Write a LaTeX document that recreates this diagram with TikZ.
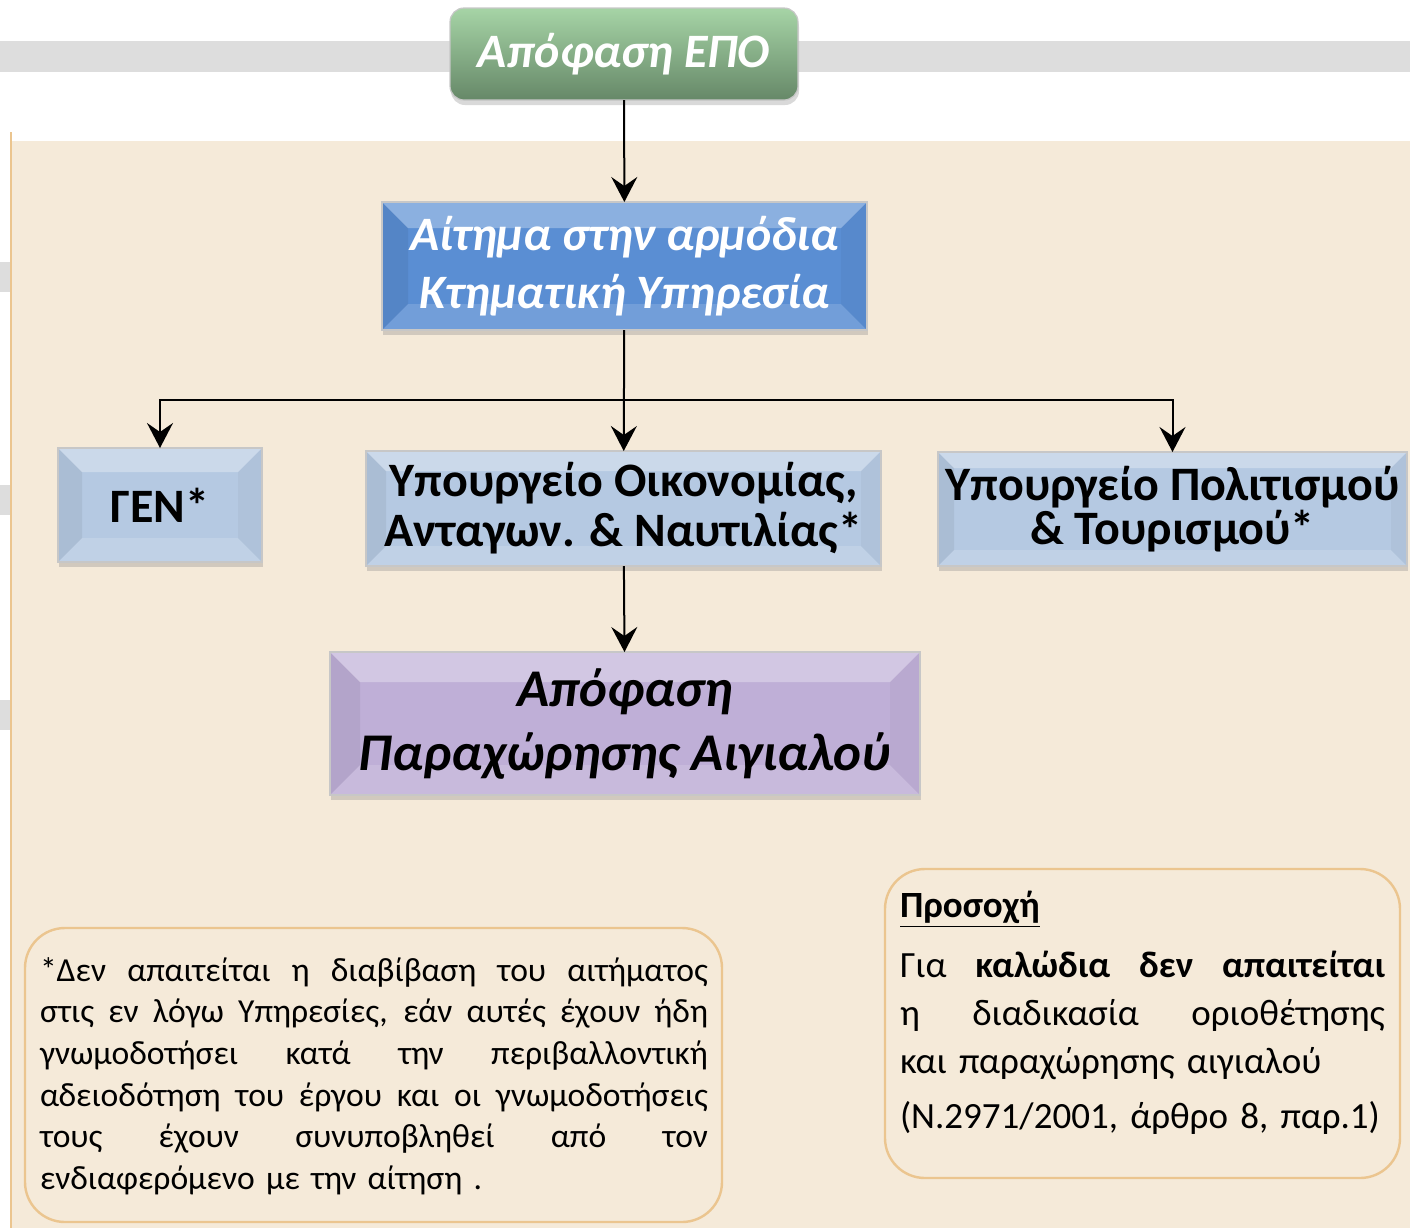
\documentclass[tikz,border=0pt]{standalone}
\usepackage{fontspec}
\setmainfont{Carlito}
\usetikzlibrary{arrows.meta,shadows}

\definecolor{barGray}{HTML}{DDDDDD}
\definecolor{panelBeige}{HTML}{F5EAD9}
\definecolor{noteLine}{HTML}{EBC58F}
\definecolor{epoTop}{HTML}{A6D4A6}
\definecolor{epoMid}{HTML}{6F956F}
\definecolor{epoBottom}{HTML}{668868}
\definecolor{reqBlue}{HTML}{5A8ED3}
\definecolor{srvBlue}{HTML}{B5C9E2}
\definecolor{decPurple}{HTML}{BFAFD7}

% one justified line of a note: width, text
\newcommand{\jline}[2]{\makebox[#1][s]{\spaceskip=0pt\xspaceskip=0pt\relax #2}}

\begin{document}
\begin{tikzpicture}[
        x=0.5pt, y=-0.5pt,
        box/.style={rectangle, draw=black!22, line width=0.6pt, inner sep=0pt, outer sep=0pt, align=center,
            drop shadow={opacity=0.3, shadow xshift=0.5pt, shadow yshift=-2.5pt}},
        bevel/.style={path picture={
            \coordinate (bnw) at (path picture bounding box.north west);
            \coordinate (bne) at (path picture bounding box.north east);
            \coordinate (bsw) at (path picture bounding box.south west);
            \coordinate (bse) at (path picture bounding box.south east);
            \fill[white, opacity=0.3] (bnw) -- (bne) -- ([shift={(-#1pt,-#1pt)}]bne) -- ([shift={(#1pt,-#1pt)}]bnw) -- cycle;
            \fill[black, opacity=0.06] (bnw) -- ([shift={(#1pt,-#1pt)}]bnw) -- ([shift={(#1pt,#1pt)}]bsw) -- (bsw) -- cycle;
            \fill[white, opacity=0.15] (bsw) -- ([shift={(#1pt,#1pt)}]bsw) -- ([shift={(-#1pt,#1pt)}]bse) -- (bse) -- cycle;
            \fill[black, opacity=0.03] (bne) -- (bse) -- ([shift={(-#1pt,#1pt)}]bse) -- ([shift={(-#1pt,-#1pt)}]bne) -- cycle;
        }},
        box_green/.style={box, rounded corners=7pt, top color=epoTop, middle color=epoMid, bottom color=epoBottom,
            text=white, font=\fontsize{24}{29}\selectfont\bfseries\itshape, minimum width=174pt, minimum height=46pt},
        box_blue/.style={box, fill=reqBlue, text=white, font=\fontsize{24}{29}\selectfont\bfseries\itshape},
        box_light/.style={box, fill=srvBlue, text=black, font=\fontsize{24}{25}\selectfont\bfseries},
        box_purple/.style={box, fill=decPurple, text=black, font=\fontsize{26.5}{32}\selectfont\bfseries\itshape},
        conn/.style={line width=1pt, -{Stealth[length=12.5pt, width=13pt, inset=4.5pt]}},
        note/.style={draw=noteLine, fill=panelBeige, line width=1.2pt, rounded corners=20pt},
        note_text/.style={inner sep=0pt, align=left},
    ]

        \useasboundingbox (0,0) rectangle (1410,1228);

        % background
        \fill[barGray] (0,41) rectangle (1410,72);
        \fill[barGray] (0,262) rectangle (10,292);
        \fill[barGray] (0,485) rectangle (10,515);
        \fill[barGray] (0,700) rectangle (10,730);
        \fill[panelBeige] (12,141) rectangle (1410,1228);
        \draw[noteLine, line width=1.3pt] (11,132) -- (11,1228);

        % boxes
        \node[box_green] (epo) at (624,54) {Απόφαση ΕΠΟ};
        \node[box_blue, bevel=13, minimum width=242.5pt, minimum height=64pt] (aitima) at (624.5,266)
            {Αίτημα στην αρμόδια\\Κτηματική Υπηρεσία};
        \node[box_light, bevel=12, minimum width=102pt, minimum height=57pt] (gen) at (160,505) {ΓΕΝ*};
        \node[box_light, bevel=10, minimum width=257.5pt, minimum height=57.5pt] (oikon) at (623.5,508.5)
            {Υπουργείο Οικονομίας,\\Ανταγων. \& Ναυτιλίας*};
        \node[box_light, bevel=8, minimum width=234.5pt, minimum height=57pt] (polit) at (1172.5,509)
            {Υπουργείο Πολιτισμού\\[-3pt]\& Τουρισμού*};
        \node[box_purple, bevel=15, minimum width=295pt, minimum height=71.5pt] (paraxor) at (625,723.5)
            {Απόφαση\\Παραχώρησης Αιγιαλού};

        % connectors
        \coordinate (split) at (624,400);
        \draw[conn] (epo) -- (aitima);
        \draw[conn] (aitima) -- (oikon);
        \draw[conn] (split) -| (gen);
        \draw[conn] (split) -| (polit);
        \draw[conn] (oikon) -- (paraxor);

        % notes
        \draw[note] (25,928) rectangle (722,1222);
        \node[note_text, text width=334pt, font=\fontsize{16.8}{20.8}\selectfont] (asterisk) at (374,1076) {%
            \jline{334pt}{*Δεν απαιτείται η διαβίβαση του αιτήματος}\\
            \jline{334pt}{στις εν λόγω Υπηρεσίες, εάν αυτές έχουν ήδη}\\
            \jline{334pt}{γνωμοδοτήσει κατά την περιβαλλοντική}\\
            \jline{334pt}{αδειοδότηση του έργου και οι γνωμοδοτήσεις}\\
            \jline{334pt}{τους έχουν συνυποβληθεί από τον}\\
            ενδιαφερόμενο με την αίτηση .};

        \draw[note] (885,869) rectangle (1400,1178);
        \node[note_text, text width=242.5pt, font=\fontsize{18.5}{24}\selectfont] (prosoxi) at (1142.5,1013) {%
            \underline{\textbf{Προσοχή}}\\[6pt]
            \jline{242.5pt}{Για \textbf{καλώδια δεν απαιτείται}}\\
            \jline{242.5pt}{η διαδικασία οριοθέτησης}\\
            και παραχώρησης αιγιαλού\\[3.5pt]
            (Ν.2971/2001, άρθρο 8, παρ.1)};
    \end{tikzpicture}
\end{document}
